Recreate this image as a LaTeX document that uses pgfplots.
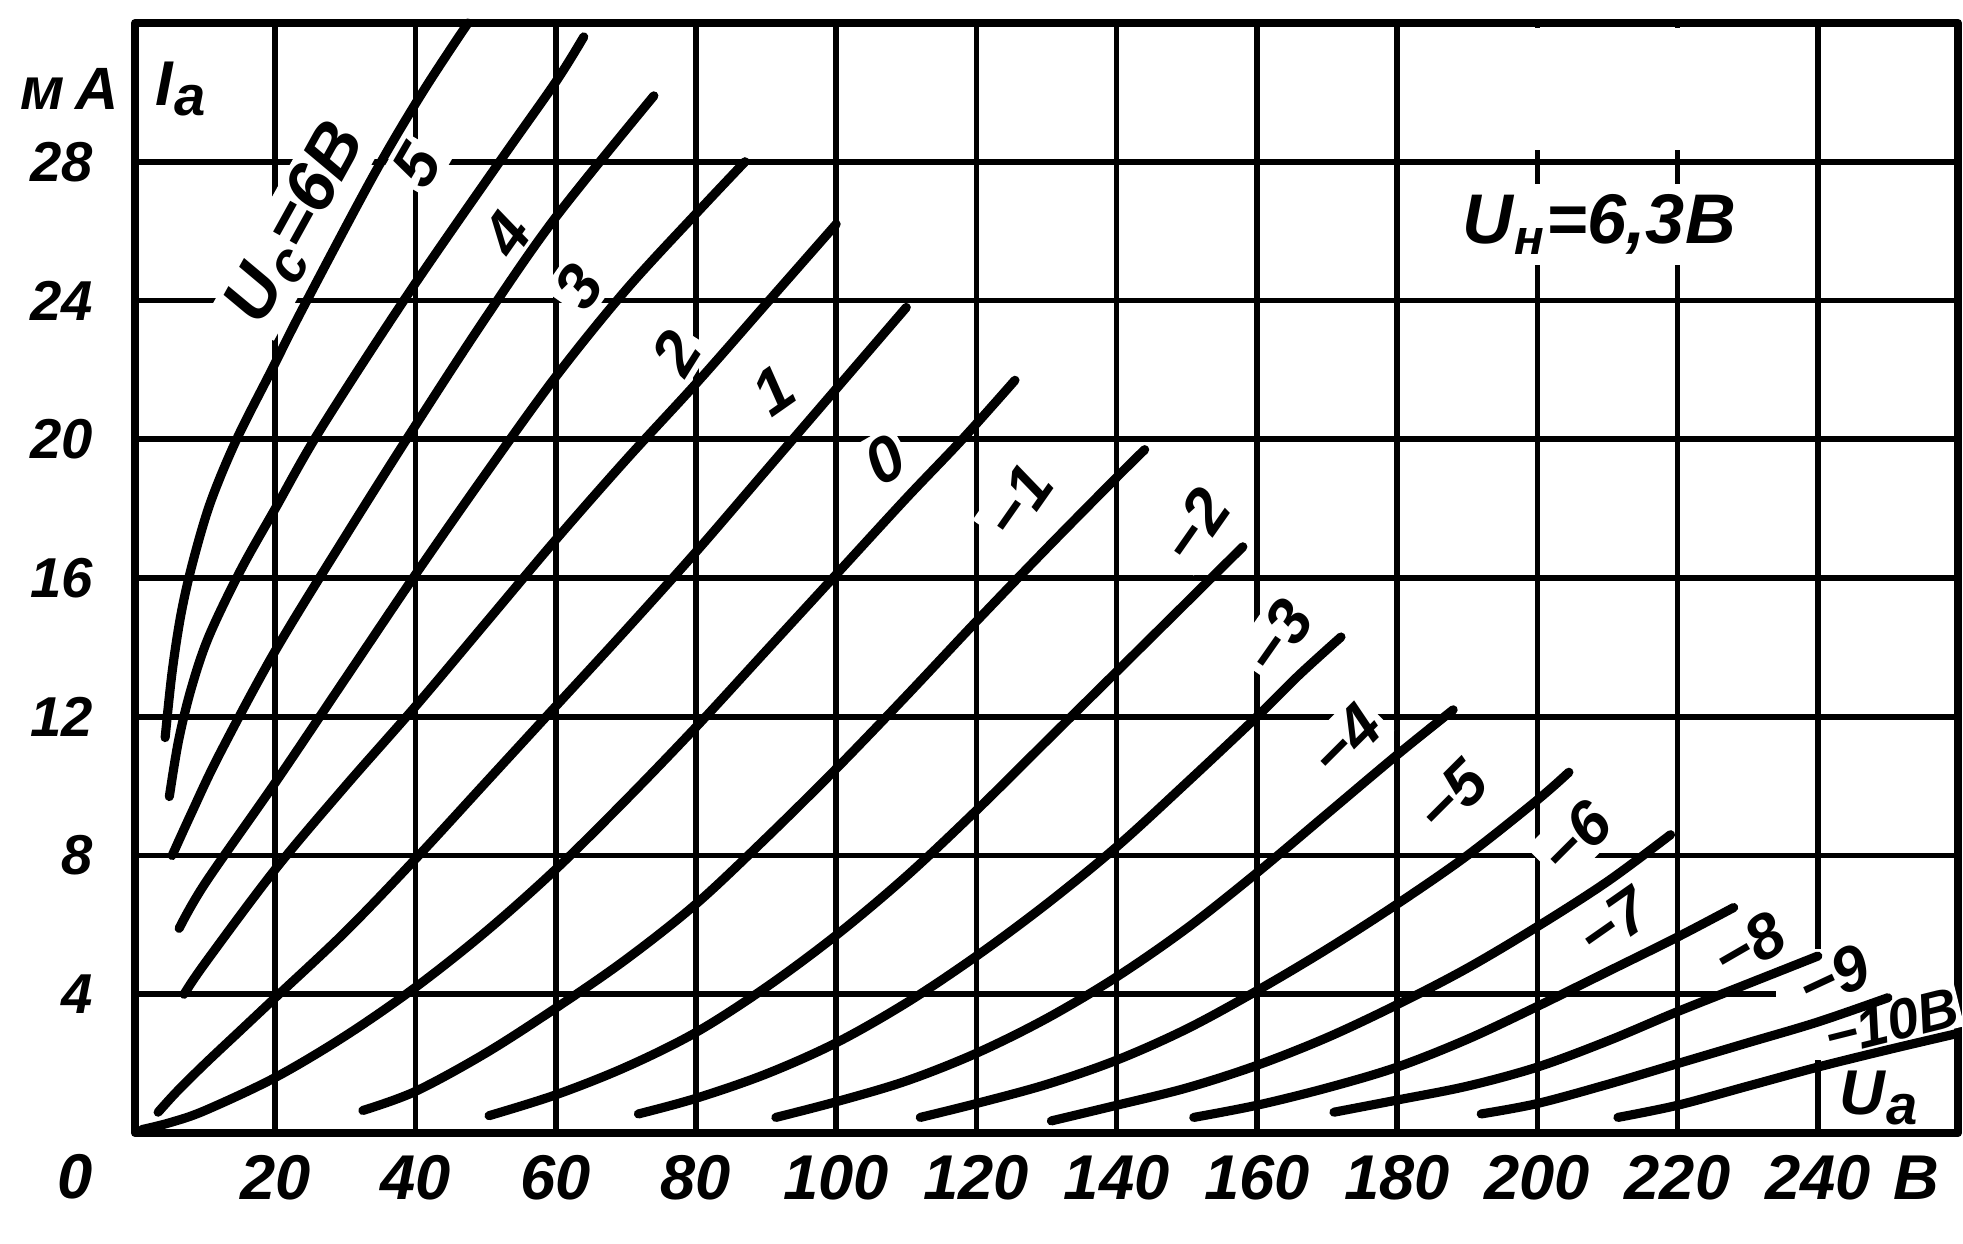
\documentclass[border=0pt]{standalone}
\usepackage{fontspec}
\setmainfont{Liberation Sans}
\usepackage{pgfplots}
\pgfplotsset{compat=1.18}
\newcommand{\lf}[1]{\fontsize{#1}{#1}\selectfont\bfseries\itshape}
\newcommand{\sub}[2]{\kern0.5pt\raisebox{-0.3ex}{\fontsize{#1}{#1}\selectfont #2}\kern0.5pt}
\tikzset{
  curve/.style={black, line width=2.6pt, line cap=round, line join=round, smooth, tension=0.55},
  lbl/.style={font=\lf{18}, fill=white, inner sep=1.5pt},
}
\begin{document}
\begin{tikzpicture}
\useasboundingbox (-1.35cm,-1.10cm) rectangle (18.28cm,11.33cm);
\begin{axis}[
  at={(0,0)}, anchor=south west,
  scale only axis, width=18.23cm, height=11.10cm,
  xmin=0, xmax=260, ymin=0, ymax=32,
  clip=false,
  xtick={0,20,...,260}, ytick={0,4,...,32},
  xticklabels={{},20,40,60,80,100,120,140,160,180,200,220,240,{}},
  yticklabels={{},4,8,12,16,20,24,28,{}},
  major tick length=0pt,
  grid=major,
  major grid style={black, line width=1.6pt},
  axis line style={black, line width=2.3pt, line join=round},
  xticklabel style={font=\lf{18}, anchor=center, yshift=-0.45cm},
  yticklabel style={font=\lf{16}, anchor=east, xshift=-0.3cm},
]
% gaps in the grid
\fill[white] (axis cs:195,28.35) rectangle (axis cs:225,31.85);
\fill[white] (axis cs:234,3.8) rectangle (axis cs:258.8,4.2);
\fill[white] (axis cs:239.2,2.1) rectangle (axis cs:240.8,5.3);
% labels
\node[font=\lf{17}, anchor=east, inner sep=0pt] at (axis cs:0,30.1) [xshift=-0.16cm] {м\,А};
\node[font=\lf{18}, anchor=center] at (axis cs:0,0) [xshift=-0.6cm, yshift=-0.44cm] {0};
\node[font=\lf{18}, anchor=center] at (axis cs:254,0) [yshift=-0.45cm] {В};
\node[font=\lf{18}, inner sep=1pt] at (axis cs:6.6,30.1) {I\sub{16}{а}};
\node[lbl, font=\lf{20}, inner sep=3pt] at (axis cs:208.8,26.2) {U\sub{14}{н}=6,3В};
\node[lbl, font=\lf{20}, rotate=61] at (axis cs:23.2,26.2) {U\sub{16}{с}=6В};
\node[lbl, rotate=60] at (axis cs:40.2,27.9) {5};
\node[lbl, rotate=55] at (axis cs:53.0,25.9) {4};
\node[lbl, rotate=55] at (axis cs:63.3,24.4) {3};
\node[lbl, rotate=58] at (axis cs:77.2,22.5) {2};
\node[lbl, rotate=35] at (axis cs:91.1,21.4) {1};
\node[lbl, rotate=30] at (axis cs:106.9,19.4) {0};
\node[lbl, rotate=55] at (axis cs:126,18.2) {−1};
\node[lbl, rotate=55] at (axis cs:151.2,17.5) {−2};
\node[lbl, rotate=55] at (axis cs:163,14.3) {−3};
\node[lbl, rotate=45] at (axis cs:172.7,11.3) {−4};
\node[lbl, rotate=45] at (axis cs:187.8,9.7) {−5};
\node[lbl, rotate=45] at (axis cs:205.4,8.5) {−6};
\node[lbl, rotate=35] at (axis cs:210.9,6.05) {−7};
\node[lbl, rotate=30] at (axis cs:230.1,5.4) {−8};
\node[lbl, rotate=25] at (axis cs:242.3,4.5) {−9};
\node[lbl, font=\lf{16}, rotate=14, inner sep=0.5pt] at (axis cs:250.5,3.2) {−10В};
\node[font=\lf{18}, inner sep=1pt] at (axis cs:248.8,1.0) {U\sub{16}{а}};
% Uc = 6
\addplot[curve] coordinates {(4.3,11.4) (5.3,13.3) (6.6,15.0) (8.3,16.5) (10.8,18.2) (14.5,20.0) (19.5,22.0) (24,23.8) (34,27.6) (41,30) (47.5,32)};
% 5
\addplot[curve] coordinates {(4.9,9.7) (6.2,11.3) (8,12.8) (10.5,14.3) (15,16.2) (20,18.0) (26.5,20.3) (39,24.2) (52,28) (60,30.3) (64,31.6)};
% 4
\addplot[curve] coordinates {(5.3,8.0) (8,9.2) (12,10.9) (20,13.9) (30,17.2) (40,20.4) (50,23.5) (60,26.4) (74,29.9)};
% 3
\addplot[curve] coordinates {(6.3,5.9) (10,7.2) (20,10.1) (30,13.1) (40,16.1) (50,19.0) (60,21.8) (70,24.3) (80,26.5) (87,28)};
% 2
\addplot[curve] coordinates {(7,4.0) (10,4.9) (20,7.6) (30,10.0) (40,12.3) (50,14.7) (60,17.1) (70,19.4) (80,21.6) (90,23.9) (100,26.2)};
% 1
\addplot[curve] coordinates {(3.3,0.6) (6,1.2) (10,2.0) (15,2.95) (20,3.9) (30,5.8) (40,7.9) (50,10.1) (60,12.3) (70,14.5) (80,16.75) (90,19.1) (100,21.45) (110,23.8)};
% 0
\addplot[curve] coordinates {(1.0,0.1) (5,0.3) (10,0.65) (20,1.6) (30,2.8) (40,4.2) (50,5.8) (60,7.6) (70,9.6) (80,11.7) (90,13.9) (100,16.1) (110,18.3) (118,20.0) (125.5,21.7)};
% -1
\addplot[curve] coordinates {(32.5,0.65) (40,1.2) (50,2.3) (60,3.6) (70,5.0) (80,6.6) (90,8.5) (100,10.5) (110,12.6) (120,14.75) (130,16.85) (140,18.9) (144,19.7)};
% -2
\addplot[curve] coordinates {(50.5,0.5) (60,1.1) (70,1.9) (80,2.9) (90,4.2) (100,5.7) (110,7.4) (120,9.3) (130,11.3) (140,13.3) (150,15.3) (158,16.9)};
% -3
\addplot[curve] coordinates {(71.8,0.55) (80,1.0) (90,1.7) (100,2.6) (110,3.75) (120,5.1) (130,6.6) (140,8.25) (150,10.1) (160,12.0) (166,13.2) (172,14.3)};
% -4
\addplot[curve] coordinates {(91.4,0.45) (100,0.9) (110,1.5) (120,2.3) (130,3.3) (140,4.5) (150,5.9) (160,7.5) (170,9.2) (180,10.9) (188,12.2)};
% -5
\addplot[curve] coordinates {(112,0.45) (120,0.85) (130,1.4) (140,2.1) (150,3.0) (160,4.1) (170,5.3) (180,6.6) (190,8.0) (200,9.6) (204.5,10.4)};
% -6
\addplot[curve] coordinates {(130.7,0.35) (140,0.8) (150,1.3) (160,1.95) (170,2.75) (180,3.7) (190,4.75) (200,5.95) (210,7.25) (219,8.6)};
% -7
\addplot[curve] coordinates {(151,0.45) (160,0.8) (170,1.3) (180,1.9) (190,2.7) (200,3.65) (210,4.65) (220,5.65) (228,6.5)};
% -8
\addplot[curve] coordinates {(171,0.6) (180,0.95) (190,1.35) (200,1.9) (210,2.65) (220,3.5) (230,4.3) (240,5.1)};
% -9
\addplot[curve] coordinates {(192,0.55) (200,0.85) (210,1.4) (220,2.0) (230,2.6) (240,3.2) (250,3.9)};
% -10
\addplot[curve] coordinates {(211.5,0.45) (220,0.8) (230,1.35) (240,1.9) (250,2.4) (259.5,2.85)};
\end{axis}
\end{tikzpicture}
\end{document}
